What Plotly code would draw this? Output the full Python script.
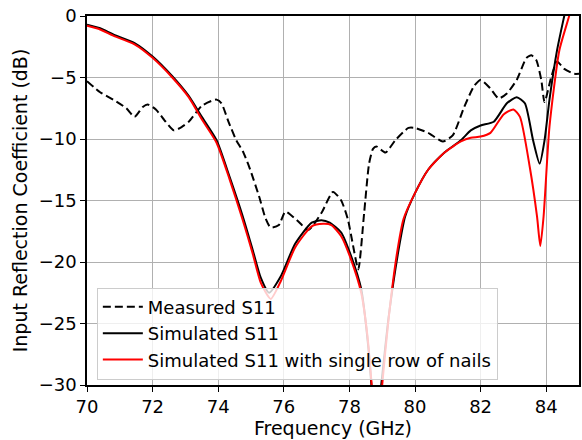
import plotly.graph_objects as go

meas_x = [70, 70.4, 70.8, 71.2, 71.45, 71.7, 71.85, 72.1, 72.4, 72.65, 72.9, 73.1, 73.5, 73.8, 73.95,
          74.1, 74.3, 74.55, 74.75, 74.95, 75.25, 75.45, 75.6, 75.85, 76.05, 76.4, 76.75, 77.15, 77.5,
          77.75, 77.95, 78.1, 78.27, 78.45, 78.6, 78.72, 78.82, 79.1, 79.4, 79.8, 80.0, 80.4, 80.85,
          81.15, 81.5, 81.8, 82.0, 82.3, 82.55, 82.8, 83.1, 83.4, 83.55, 83.7, 83.85, 83.95, 84.15,
          84.33, 84.55, 84.85, 85]
meas_y = [-5.3, -6.2, -6.8, -7.5, -8.2, -7.4, -7.2, -7.6, -8.6, -9.3, -9.0, -8.6, -7.3, -6.9, -6.8,
          -7.1, -8.5, -10.1, -11.0, -12.3, -14.7, -16.5, -17.2, -17.0, -15.9, -16.6, -17.4, -16.0, -14.3,
          -15.0, -16.5, -18.5, -20.6, -16.0, -12.0, -10.8, -10.6, -11.1, -10.1, -9.1, -9.1, -9.5, -10.2,
          -9.7, -7.4, -5.7, -5.2, -5.9, -6.7, -6.3, -5.2, -3.4, -3.2, -3.6, -5.2, -7.0, -5.0,
          -3.7, -4.3, -4.7, -4.7]

sim_x = [70, 70.4, 70.8, 71.45, 72.0, 72.6, 73.1, 73.5, 73.95, 74.35, 74.75, 75.05, 75.3, 75.55, 75.9,
         76.35, 76.85, 77.15, 77.4, 77.75, 78.05, 78.36, 78.58, 78.67, 78.8, 78.97, 79.2, 79.5, 79.7,
         80.0, 80.4, 80.9, 81.4, 81.7, 82.0, 82.4, 82.8, 83.1, 83.35, 83.6, 83.8, 83.95, 84.1, 84.33,
         84.55, 84.8]
sim_y = [-0.7, -1.0, -1.5, -2.2, -3.3, -4.9, -6.5, -8.2, -10.1, -13.1, -16.3, -19.0, -21.3, -22.5, -21.2,
         -18.5, -16.8, -16.6, -16.8, -17.6, -19.5, -22.2, -27.0, -30.0, -34.0, -30.0, -24.4, -19.0, -16.3,
         -14.4, -12.5, -11.1, -10.1, -9.3, -8.9, -8.6, -7.1, -6.6, -7.1, -10.1, -12.0, -10.1, -6.8, -2.8,
         0.0, 3.0]

nail_x = [70, 70.4, 70.8, 71.45, 72.0, 72.6, 73.1, 73.5, 73.95, 74.35, 74.75, 75.05, 75.3, 75.6, 75.9,
          76.35, 76.85, 77.2, 77.45, 77.75, 78.05, 78.36, 78.55, 78.68, 78.85, 79.0, 79.2, 79.45, 79.65,
          80.0, 80.4, 80.9, 81.4, 81.7, 82.0, 82.3, 82.7, 83.0, 83.2, 83.5, 83.72, 83.82, 83.92, 84.1,
          84.4, 84.7, 84.9]
nail_y = [-0.8, -1.1, -1.6, -2.3, -3.4, -5.0, -6.6, -8.4, -10.3, -13.3, -16.6, -19.3, -21.7, -23.0, -21.6,
          -18.8, -17.1, -16.9, -17.0, -17.9, -19.8, -22.5, -26.0, -30.0, -36.0, -30.0, -24.5, -19.3, -16.5,
          -14.4, -12.5, -11.1, -10.2, -9.9, -9.8, -9.5, -8.0, -7.6, -8.2, -12.3, -16.3, -18.7, -16.3, -9.0,
          -2.8, 0.0, 2.0]

x_ticks = [70, 72, 74, 76, 78, 80, 82, 84]
y_ticks = [0, -5, -10, -15, -20, -25, -30]

fig = go.Figure()
fig.add_trace(go.Scatter(x=meas_x, y=meas_y, mode="lines", name="Measured S11", legendgroup="a",
                         line=dict(color="black", width=2, dash="8px,4px", shape="spline", smoothing=0.6)))
fig.add_trace(go.Scatter(x=sim_x, y=sim_y, mode="lines", name="Simulated S11", legendgroup="b",
                         line=dict(color="black", width=2, shape="spline", smoothing=0.6)))
fig.add_trace(go.Scatter(x=nail_x, y=nail_y, mode="lines", name="Simulated S11 with single row of nails",
                         legendgroup="c",
                         line=dict(color="red", width=2, shape="spline", smoothing=0.6)))

axis_common = dict(showline=True, linecolor="black", linewidth=1.5, mirror=True,
                   ticks="outside", ticklen=5, tickcolor="black",
                   showgrid=True, gridcolor="#b0b0b0", gridwidth=1, zeroline=False,
                   tickfont=dict(size=18, color="black"))

fig.update_layout(
    width=582, height=440,
    margin=dict(l=87, r=1, t=16, b=55),
    paper_bgcolor="white", plot_bgcolor="white",
    font=dict(family="DejaVu Sans", color="black"),
    xaxis=dict(range=[70, 85], tickvals=x_ticks,
               title=dict(text="Frequency (GHz)", font=dict(size=19), standoff=2), **axis_common),
    yaxis=dict(range=[-30, 0], tickvals=y_ticks,
               title=dict(text="Input Reflection Coefficient (dB)", font=dict(size=19), standoff=6), **axis_common),
    legend=dict(x=0.02, y=0.264, xanchor="left", yanchor="top",
                bgcolor="rgba(255,255,255,0.8)", bordercolor="#cccccc", borderwidth=1,
                font=dict(size=18, color="black"), itemwidth=40, tracegroupgap=0),
    showlegend=True,
)

fig.write_html("out.html")
